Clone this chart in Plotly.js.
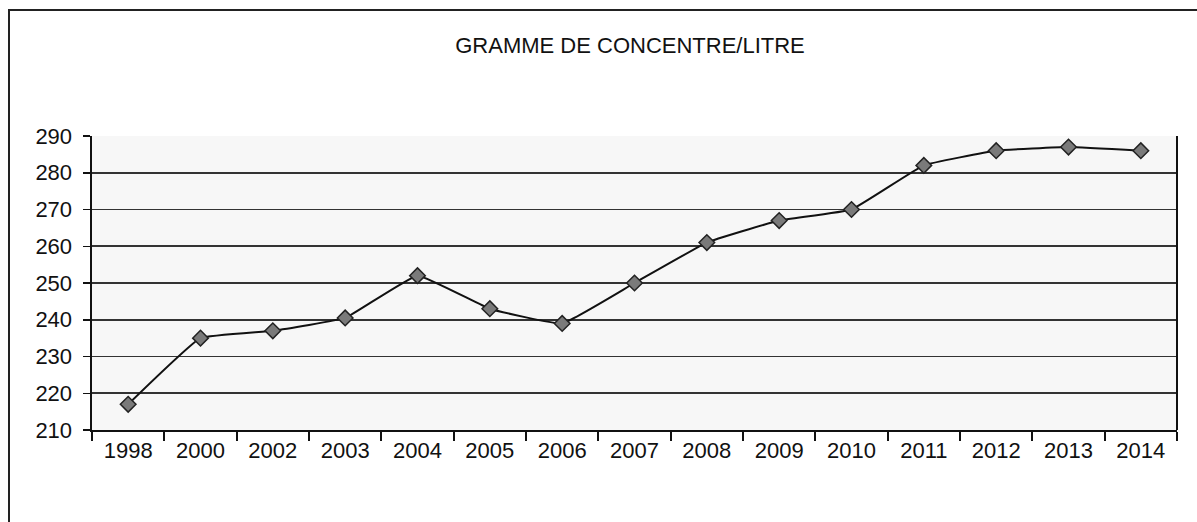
<!DOCTYPE html>
<html>
<head>
<meta charset="utf-8">
<script src="https://cdn.plot.ly/plotly-3.0.1.min.js"></script>
<style>
html, body { margin: 0; padding: 0; background: #fff; }
#frame { position: absolute; left: 8px; top: 9px; width: 1200px; height: 530px; border-left: 2px solid #222; border-top: 2px solid #222; }
#chart { position: absolute; left: 0; top: 0; width: 1197px; height: 522px; }
</style>
</head>
<body>
<div id="frame"></div>
<div id="chart"></div>
<script>
const years = ['1998','2000','2002','2003','2004','2005','2006','2007','2008','2009','2010','2011','2012','2013','2014'];
const values = [217, 235, 237, 240.5, 252, 243, 239, 250, 261, 267, 270, 282, 286, 287, 286];
const yTicks = [210, 220, 230, 240, 250, 260, 270, 280, 290];
const chartTitle = 'GRAMME DE CONCENTRE/LITRE';

const trace = {
  x: years,
  y: values,
  type: 'scatter',
  mode: 'lines+markers',
  line: { color: '#111', width: 2, shape: 'spline', smoothing: 0.3 },
  marker: { symbol: 'diamond', size: 12, color: '#7a7a7a', line: { color: '#222', width: 1.5 } },
  hoverinfo: 'x+y'
};

const layout = {
  width: 1197,
  height: 522,
  margin: { l: 92, r: 20, t: 136, b: 92 },
  paper_bgcolor: 'rgba(0,0,0,0)',
  plot_bgcolor: '#f7f7f7',
  showlegend: false,
  font: { family: 'Liberation Sans, Arial, sans-serif', color: '#111' },
  title: {
    text: chartTitle,
    font: { family: 'Liberation Sans, Arial, sans-serif', size: 22, color: '#111' },
    x: 630 / 1197, xanchor: 'center', xref: 'container',
    y: 1 - 45 / 522, yref: 'container', yanchor: 'middle'
  },
  xaxis: {
    type: 'category',
    range: [-0.5, years.length - 0.5],
    tickson: 'boundaries',
    ticks: 'outside',
    ticklen: 9,
    tickwidth: 2,
    tickcolor: '#111',
    showline: true,
    linecolor: '#111',
    linewidth: 2,
    mirror: false,
    showgrid: false,
    tickfont: { size: 22, color: '#111' },
    automargin: false
  },
  yaxis: {
    range: [210, 290],
    tickvals: yTicks,
    ticktext: yTicks.map(String),
    ticks: 'outside',
    ticklen: 7,
    tickwidth: 1.5,
    tickcolor: '#111',
    showline: true,
    linecolor: '#111',
    linewidth: 2.5,
    mirror: false,
    showgrid: true,
    gridcolor: '#333',
    gridwidth: 1.8,
    zeroline: false,
    tickfont: { size: 22, color: '#111' },
    ticklabelstandoff: 6,
    automargin: false
  },
  shapes: [
    { type: 'line', xref: 'paper', yref: 'paper', x0: 1, x1: 1, y0: 0, y1: 1, line: { color: '#111', width: 2 } }
  ]
};

Plotly.newPlot('chart', [trace], layout, { displayModeBar: false, staticPlot: true });
</script>
</body>
</html>
